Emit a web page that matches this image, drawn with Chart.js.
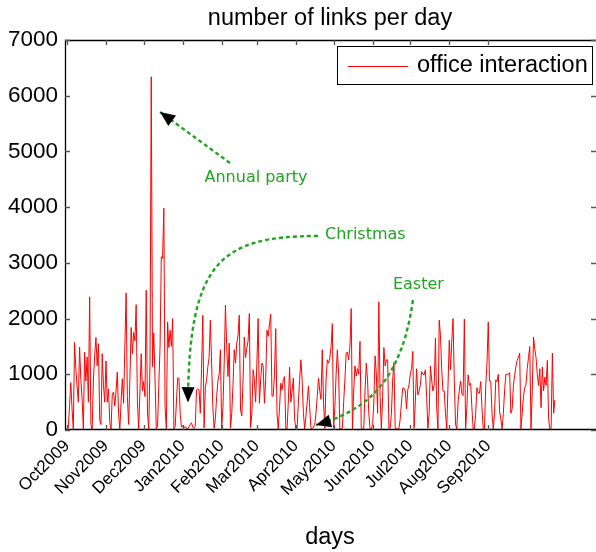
<!DOCTYPE html>
<html>
<head>
<meta charset="utf-8">
<script src="https://cdn.jsdelivr.net/npm/chart.js@4/dist/chart.umd.min.js"></script>
<style>
  html, body { margin: 0; padding: 0; background: #fff; }
  canvas { display: block; }
</style>
</head>
<body>
<canvas id="c" width="596" height="552"></canvas>
<script>
// Daily link counts, starting 1 Oct 2009 (index = day number)
const linksPerDay = [
  0, 40, 420, 850, 380, 20, 1570, 1100, 790, 500,
  1490, 900, 560, 20, 1400, 880, 1310, 500, 2390, 100,
  0, 900, 1340, 1660, 1150, 1550, 180, 100, 1370, 800,
  500, 1240, 500, 740, 150, 0, 650, 680, 430, 700,
  1040, 300, 0, 500, 920, 480, 1500, 2460, 600, 100,
  900, 1840, 1370, 1750, 1600, 2250, 500, 20, 700, 1370,
  700, 870, 600, 2510, 300, 20, 1200, 6340, 1140, 1740,
  900, 20, 60, 800, 1500, 3110, 3080, 3980, 400, 20,
  1940, 1480, 1790, 1500, 2000, 20, 60, 500, 930, 930,
  300, 50, 80, 40, 60, 30, 20, 60, 100, 130,
  50, 30, 70, 720, 740, 720, 300, 1100, 2060, 40,
  770, 900, 1140, 1300, 1970, 1200, 400, 30, 200, 600,
  880, 1000, 1440, 30, 400, 1200, 2240, 1500, 960, 1560,
  30, 300, 800, 1440, 1200, 1560, 1700, 2060, 360, 250,
  900, 1670, 1300, 1470, 1600, 2090, 40, 300, 1080, 900,
  500, 1200, 2000, 480, 900, 1200, 1150, 480, 900, 1790,
  1680, 1900, 2080, 610, 610, 1000, 1820, 300, 20, 400,
  840, 720, 900, 960, 20, 20, 500, 1130, 500, 700,
  930, 200, 20, 30, 500, 900, 1260, 900, 300, 20,
  250, 500, 790, 400, 30, 20, 50, 100, 300, 600,
  930, 700, 550, 1440, 500, 30, 900, 1260, 1200, 1290,
  1500, 1910, 30, 400, 1000, 1440, 1020, 20, 20, 30,
  500, 900, 1380, 1400, 1260, 1500, 2180, 20, 700, 1150,
  970, 1100, 1000, 1590, 30, 20, 20, 700, 1200, 900,
  300, 20, 20, 80, 500, 1330, 1000, 300, 2300, 600,
  20, 600, 1480, 1150, 1260, 1260, 30, 30, 300, 900,
  1210, 30, 20, 20, 30, 200, 500, 750, 750, 700,
  380, 720, 810, 1000, 1100, 1410, 30, 500, 1100, 630,
  700, 810, 1050, 1000, 990, 1080, 600, 30, 300, 1150,
  900, 700, 800, 1650, 400, 20, 1970, 1700, 1080, 700,
  700, 300, 20, 800, 1610, 1080, 1600, 2000, 900, 100,
  20, 500, 720, 880, 650, 620, 1990, 20, 400, 990,
  800, 840, 400, 20, 20, 300, 760, 660, 660, 870,
  400, 20, 20, 800, 1200, 1940, 880, 880, 300, 20,
  300, 900, 870, 1000, 330, 200, 20, 300, 700, 1000,
  1000, 1000, 1030, 300, 380, 800, 980, 1140, 1250, 1300,
  1380, 20, 300, 600, 760, 810, 1100, 1300, 1500, 20,
  700, 1670, 1450, 1300, 1000, 800, 1100, 400, 1130, 700,
  950, 800, 1250, 200, 20, 30, 1380, 300, 540
];

// Month tick positions (days since 1 Oct 2009) and their labels
const monthStartDays = [0, 31, 61, 92, 123, 151, 182, 212, 243, 273, 304, 335];
const monthLabels = ['Oct2009', 'Nov2009', 'Dec2009', 'Jan2010', 'Feb2010', 'Mar2010',
                     'Apr2010', 'May2010', 'Jun2010', 'Jul2010', 'Aug2010', 'Sep2010'];

// Y axis ticks
const yTicks = [0, 1000, 2000, 3000, 4000, 5000, 6000, 7000];

const seriesName = 'office interaction';
const chartTitle = 'number of links per day';
const xTitle = 'days';

// Event callouts, placed in (day, links) coordinates
const notes = [
  { text: 'Annual party', textAt: [150.3, 4523], align: 'center',
    path: [[129.6, 4792]], tip: [74.0, 5708] },
  { text: 'Christmas', textAt: [205.2, 3500], align: 'left',
    path: [[199.6, 3482], [121.7, 3482], [97.0, 3015]], tip: [96.2, 500] },
  { text: 'Easter', textAt: [259.2, 2603], align: 'left',
    path: [[275.1, 2333], [266.4, 933], [240.9, 359]], tip: [198.0, 90] }
];

const AXIS_FONT = '"Liberation Sans", Arial, Helvetica, sans-serif';
const NOTE_FONT = '"DejaVu Sans", sans-serif';
const GREEN = '#1ea51e';

// Axes box (open past the canvas edge), inward tick marks, titles and legend
const framePlugin = {
  id: 'frame',
  afterDraw(chart) {
    const { ctx, chartArea: a, scales: { x, y } } = chart;
    const W = chart.width;
    ctx.save();
    ctx.strokeStyle = '#000';
    ctx.lineWidth = 1.3;
    ctx.beginPath();
    ctx.moveTo(W, a.top + 0.5);
    ctx.lineTo(a.left + 0.5, a.top + 0.5);
    ctx.lineTo(a.left + 0.5, a.bottom - 0.5);
    ctx.lineTo(W, a.bottom - 0.5);
    ctx.stroke();

    ctx.strokeStyle = '#555';
    ctx.lineWidth = 1.3;
    yTicks.forEach(v => {
      const py = Math.round(y.getPixelForValue(v)) + 0.5;
      ctx.beginPath();
      ctx.moveTo(a.left, py); ctx.lineTo(a.left + 5, py);
      ctx.moveTo(W, py); ctx.lineTo(W - 5, py);
      ctx.stroke();
    });
    monthStartDays.forEach(d => {
      const px = Math.round(x.getPixelForValue(d)) + 0.5;
      ctx.beginPath();
      ctx.moveTo(px, a.bottom); ctx.lineTo(px, a.bottom - 5);
      ctx.moveTo(px, a.top); ctx.lineTo(px, a.top + 5);
      ctx.stroke();
    });

    const cx = 330;
    ctx.fillStyle = '#000';
    ctx.textAlign = 'center';
    ctx.textBaseline = 'middle';
    ctx.font = '23.5px ' + AXIS_FONT;
    ctx.fillText(chartTitle, cx, 19);
    ctx.fillText(xTitle, cx, 538);

    // legend
    const lx = 337, ly = 46, lw = 255, lh = 38;
    ctx.fillStyle = '#fff';
    ctx.fillRect(lx, ly, lw, lh);
    ctx.strokeStyle = '#000';
    ctx.lineWidth = 1;
    ctx.strokeRect(lx + 0.5, ly + 0.5, lw, lh);
    const ds = chart.data.datasets[0];
    ctx.strokeStyle = ds.borderColor;
    ctx.beginPath();
    ctx.moveTo(lx + 11, ly + 20.5); ctx.lineTo(lx + 71, ly + 20.5);
    ctx.stroke();
    ctx.fillStyle = '#000';
    ctx.textAlign = 'left';
    ctx.fillText(ds.label, lx + 80, ly + 20);
    ctx.restore();
  }
};

function arrowHead(ctx, from, tip) {
  const dx = tip[0] - from[0], dy = tip[1] - from[1];
  const len = Math.hypot(dx, dy) || 1;
  const ux = dx / len, uy = dy / len;
  const L = 15, W = 6.5;
  const bx = tip[0] - ux * L, by = tip[1] - uy * L;
  ctx.beginPath();
  ctx.moveTo(tip[0], tip[1]);
  ctx.lineTo(bx - uy * W, by + ux * W);
  ctx.lineTo(bx + uy * W, by - ux * W);
  ctx.closePath();
  ctx.fill();
}

// Dashed green callout arrows with labels
const notesPlugin = {
  id: 'notes',
  afterDatasetsDraw(chart) {
    const { ctx, scales: { x, y } } = chart;
    const P = p => [x.getPixelForValue(p[0]), y.getPixelForValue(p[1])];
    ctx.save();
    notes.forEach(n => {
      const pts = n.path.map(P);
      const tip = P(n.tip);
      ctx.strokeStyle = GREEN;
      ctx.lineWidth = 2.4;
      ctx.setLineDash([4, 3]);
      ctx.beginPath();
      ctx.moveTo(pts[0][0], pts[0][1]);
      let prev;
      if (pts.length === 3) {
        ctx.bezierCurveTo(pts[1][0], pts[1][1], pts[2][0], pts[2][1], tip[0], tip[1]);
        prev = pts[2];
      } else {
        ctx.lineTo(tip[0], tip[1]);
        prev = pts[0];
      }
      ctx.stroke();
      ctx.setLineDash([]);
      ctx.fillStyle = '#000';
      arrowHead(ctx, prev, tip);

      const t = P(n.textAt);
      ctx.fillStyle = GREEN;
      ctx.font = '16px ' + NOTE_FONT;
      ctx.textAlign = n.align;
      ctx.textBaseline = 'middle';
      ctx.fillText(n.text, t[0], t[1]);
    });
    ctx.restore();
  }
};

new Chart(document.getElementById('c'), {
  type: 'line',
  data: {
    datasets: [{
      label: seriesName,
      data: linksPerDay.map((v, i) => ({ x: i, y: v })),
      borderColor: '#ff0000',
      borderWidth: 1,
      pointRadius: 0,
      tension: 0,
      fill: false
    }]
  },
  options: {
    responsive: false,
    animation: false,
    devicePixelRatio: 1,
    layout: { padding: { top: 40, right: 2, left: 0, bottom: 0 } },
    plugins: { legend: { display: false }, title: { display: false }, tooltip: { enabled: false } },
    scales: {
      x: {
        type: 'linear',
        min: -1.6,
        max: 419.1,
        afterBuildTicks: s => { s.ticks = monthStartDays.map(v => ({ value: v })); },
        afterFit: s => { s.height = 122; },
        ticks: {
          autoSkip: false,
          minRotation: 45,
          maxRotation: 45,
          padding: 6,
          color: '#000',
          font: { family: AXIS_FONT, size: 17 },
          callback: v => monthLabels[monthStartDays.indexOf(v)]
        },
        grid: { display: false, drawTicks: false },
        border: { display: false }
      },
      y: {
        min: 0,
        max: 7000,
        afterBuildTicks: s => { s.ticks = yTicks.map(v => ({ value: v })); },
        afterFit: s => { s.width = 65; },
        ticks: {
          padding: 7,
          color: '#000',
          font: { family: AXIS_FONT, size: 22.5 },
          callback: v => String(v)
        },
        grid: { display: false, drawTicks: false },
        border: { display: false }
      }
    }
  },
  plugins: [framePlugin, notesPlugin]
});
</script>
</body>
</html>
